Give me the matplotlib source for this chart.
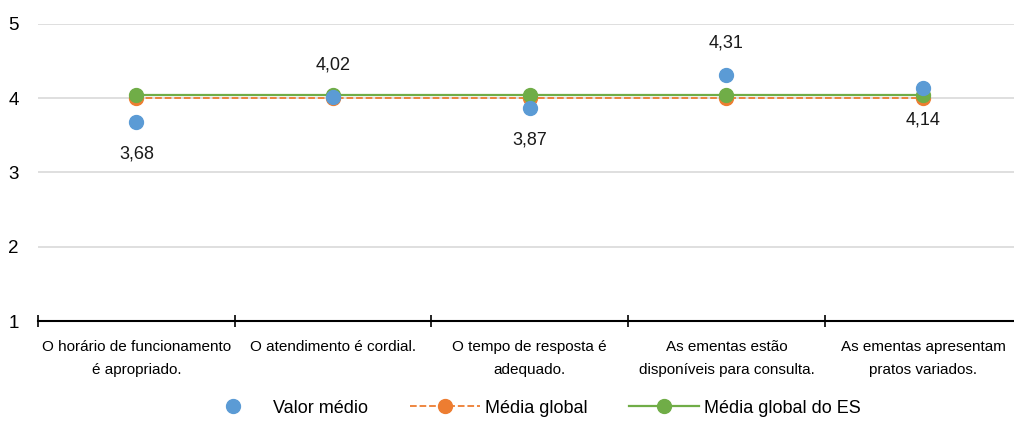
import numpy as np
import matplotlib.pyplot as plt

categorias = ["O horário de funcionamento\né apropriado.",
              "O atendimento é cordial.",
              "O tempo de resposta é\nadequado.",
              "As ementas estão\ndisponíveis para consulta.",
              "As ementas apresentam\npratos variados."]
valor_medio = [3.68, 4.02, 3.87, 4.31, 4.14]
media_global = [4.00, 4.00, 4.00, 4.00, 4.00]
media_global_es = [4.04, 4.04, 4.04, 4.04, 4.04]
rotulo_acima = [False, True, False, True, False]

plt.rcParams['font.family'] = ['Liberation Sans', 'DejaVu Sans']

BLUE = "#5B9BD5"
ORANGE = "#ED7D31"
GREEN = "#70AD47"

fig = plt.figure(figsize=(10.14, 4.23), dpi=100)
ax = fig.add_axes([38/1014, 102/423, (1021.5-38)/1014, (321-24)/423])

x = np.arange(len(categorias))
ax.plot(x, media_global, color=ORANGE, linestyle='--', linewidth=1.3,
        marker='o', markersize=10, label="Média global", zorder=3)
ax.plot(x, media_global_es, color=GREEN, linestyle='-', linewidth=1.6,
        marker='o', markersize=10, label="Média global do ES", zorder=4)
ax.plot(x, valor_medio, linestyle='none', marker='o', markersize=10,
        color=BLUE, label="Valor médio", zorder=5)

for xi, v, up in zip(x, valor_medio, rotulo_acima):
    off = 23 if up else -23
    ax.annotate(f"{v:.2f}".replace('.', ','), (xi, v), xytext=(0, off),
                textcoords='offset points', ha='center', va='center',
                fontsize=13, color='#1a1a1a')

ax.set_xlim(-0.5, 4.5)
ax.set_ylim(1, 5)
ax.set_yticks([1, 2, 3, 4, 5])
ax.yaxis.grid(True, color='#d9d9d9', linewidth=1.2)
ax.set_axisbelow(True)
ax.tick_params(axis='y', length=0, labelsize=13.5, pad=14)

ax.set_xticks(np.arange(-0.5, 5, 1))
ax.set_xticklabels([])
ax.set_xticks(x, minor=True)
ax.set_xticklabels(categorias, minor=True, fontsize=11, linespacing=1.75)
ax.tick_params(axis='x', which='major', direction='inout', length=9, width=1.2)
ax.tick_params(axis='x', which='minor', length=0, pad=14)

for s in ['top', 'right', 'left']:
    ax.spines[s].set_visible(False)
ax.spines['bottom'].set_linewidth(1.5)

h, l = ax.get_legend_handles_labels()
order = [2, 0, 1]
fig.legend([h[i] for i in order], [l[i] for i in order], loc='center',
           bbox_to_anchor=(0.522, 0.035), ncol=3, frameon=False,
           fontsize=13, handlelength=3.9, columnspacing=2.3, handletextpad=0.25)

fig.savefig("out.png", dpi=100)
